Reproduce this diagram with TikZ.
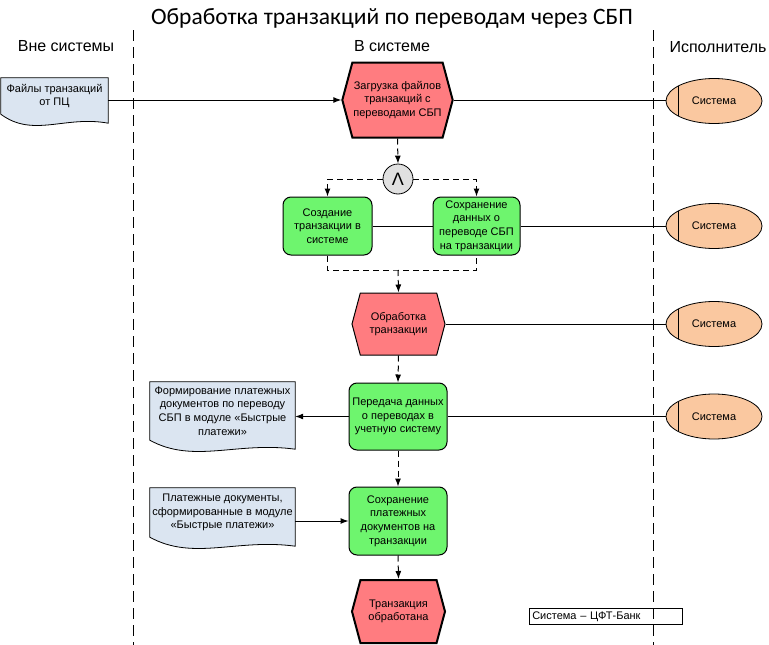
\documentclass[tikz,border=0pt]{standalone}
\usepackage{fontspec}
\setmainfont{Liberation Sans}
\newfontfamily\titlefont{Carlito}
\usetikzlibrary{calc,positioning,shapes.geometric,shapes.symbols,arrows.meta}

\definecolor{eventred}{RGB}{255,124,128}
\definecolor{funcgreen}{RGB}{110,245,110}
\definecolor{docblue}{RGB}{219,229,241}
\definecolor{orgpeach}{RGB}{250,200,160}
\definecolor{andgray}{RGB}{224,224,224}

\newcommand{\bodyfont}{\fontsize{11}{13.6}\selectfont}

\pgfdeclarelayer{background}
\pgfsetlayers{background,main}

% document outline with wavy bottom, behind the text node
\newcommand{\docshape}[1]{%
  \begin{pgfonlayer}{background}
    \filldraw[docline] (#1.north west) -- (#1.north east) -- ($(#1.south east)+(0,9)$)
      .. controls ($(#1.south west)!0.6!(#1.south east)+(0,1)$) and ($(#1.south west)!0.3!(#1.south east)+(0,24)$) .. (#1.south west) -- cycle;
  \end{pgfonlayer}}

\tikzset{
  event/.style={signal, signal to=east and west, signal pointer angle=150, draw,
    fill=eventred, line width=2pt, align=center, font=\bodyfont, inner sep=1pt},
  func/.style={rectangle, rounded corners=8pt, draw, line width=1pt, fill=funcgreen,
    align=center, font=\bodyfont, inner sep=1pt},
  doc/.style={rectangle, align=center, font=\bodyfont, inner sep=1pt},
  docline/.style={draw, fill=docblue, line width=0.8pt},
  orgunit/.style={ellipse, draw, line width=0.8pt, fill=orgpeach, minimum width=96pt,
    minimum height=45pt, font=\bodyfont,
    path picture={\draw[line width=0.8pt] ([xshift=12pt]path picture bounding box.north west)
      -- ([xshift=12pt]path picture bounding box.south west);}},
  andop/.style={circle, draw, fill=andgray, minimum size=30pt, inner sep=0pt, line width=0.8pt},
  flow/.style={line width=1pt, dash pattern=on 6pt off 4pt},
  link/.style={line width=1pt},
  lane/.style={line width=0.8pt, dash pattern=on 11pt off 6pt},
  lanehead/.style={font=\fontsize{16}{19}\selectfont},
}

\begin{document}
\begin{tikzpicture}[x=1pt, y=-1pt, >={Latex[length=8pt,width=6pt]}]
  \useasboundingbox (0,0) rectangle (769,645);

  % headers
  \node[font=\titlefont\fontsize{23.5}{28}\selectfont] (title) at (392,18) {Обработка транзакций по переводам через СБП};
  \node[lanehead] (outside) at (66,46) {Вне системы};
  \node[lanehead] (inside) at (392,46) {В системе};
  \node[lanehead] (actor) at (718,47) {Исполнитель};

  % process
  \node[doc, minimum width=107pt, minimum height=36pt] (d1) at (54.5,96) {Файлы транзакций\\от ПЦ};
  \node[event, minimum width=109pt, minimum height=75pt] (ev1) at (397.5,100) {Загрузка файлов\\транзакций с\\переводами СБП};
  \node[andop] (and) at (398,179) {\fontsize{18}{18}\selectfont Λ};
  \node[func, minimum width=89pt, minimum height=58pt] (f1) at (327.5,226) {Создание\\транзакции в\\системе};
  \node[func, minimum width=87pt, minimum height=58pt] (f2) at (476.5,226) {Сохранение\\данных о\\переводе СБП\\на транзакции};
  \coordinate (j1) at (398,270);
  \node[event, line width=1pt, minimum width=93pt, minimum height=62pt] (ev2) at (398.5,324) {Обработка\\транзакции};
  \node[func, minimum width=98pt, minimum height=67pt] (f3) at (398,416.5) {Передача данных\\о переводах в\\учетную систему};
  \node[doc, minimum width=145pt, minimum height=58pt] (d2) at (222.5,411) {Формирование платежных\\документов по переводу\\СБП в модуле «Быстрые\\платежи»};
  \node[func, minimum width=98pt, minimum height=68pt] (f4) at (398,521) {Сохранение\\платежных\\документов на\\транзакции};
  \node[doc, minimum width=145pt, minimum height=49pt] (d3) at (222.5,512.5) {Платежные документы,\\сформированные в модуле\\«Быстрые платежи»};
  \node[event, minimum width=93pt, minimum height=63pt] (ev3) at (398.5,611.5) {Транзакция\\обработана};
  \docshape{d1}
  \docshape{d2}
  \docshape{d3}

  % performers
  \node[orgunit] (e1) at (714,101) {Система};
  \node[orgunit] (e2) at (714,226) {Система};
  \node[orgunit] (e3) at (714,324) {Система};
  \node[orgunit] (e4) at (714,416.5) {Система};

  % solid links
  \draw[link,->] (d1.east |- ev1.west) -- (ev1.west);
  \draw[link] (ev1.east) -- (e1.west |- ev1.east);
  \draw[link] (f1.east) -- (f2.west);
  \draw[link] (f2.east) -- (e2.west);
  \draw[link] (ev2.east) -- (e3.west);
  \draw[link] (f3.east) -- (e4.west);
  \draw[link,->] (f3.west) -- (f3.west -| d2.east);
  \draw[link,->] (d3.east |- f4.west) -- (f4.west);

  % control flow
  \draw[flow,->] (ev1.south) -- (and.north);
  \draw[flow,->] (and.west) -| (f1.north);
  \draw[flow,->] (and.east) -| (f2.north);
  \draw[flow] (f1.south) |- (j1) -| (f2.south);
  \draw[flow,->] (j1) -- (ev2.north);
  \draw[flow,->] (ev2.south) -- (f3.north);
  \draw[flow,->] (f3.south) -- (f4.north);
  \draw[flow,->] (f4.south) -- (ev3.north);

  % legend
  \node[draw, line width=0.6pt, fill=white, anchor=west, minimum height=15pt, text width=147pt,
    align=left, inner sep=3pt, font=\bodyfont] (legend) at (529,616.5) {Система – ЦФТ-Банк};

  % lanes
  \draw[lane] (133,30) -- (133,645);
  \draw[lane] (653,30) -- (653,645);
\end{tikzpicture}
\end{document}
